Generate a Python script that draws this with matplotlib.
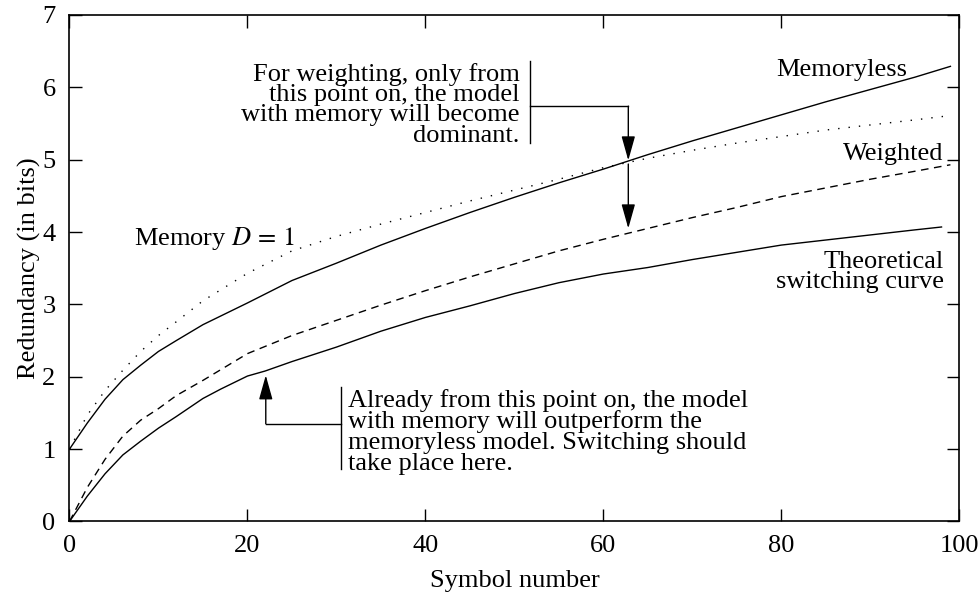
import numpy as np
import matplotlib
matplotlib.use('Agg')
import matplotlib.pyplot as plt

plt.rcParams['font.family'] = ['Liberation Serif', 'DejaVu Serif']
plt.rcParams['mathtext.fontset'] = 'stix'

# Values
symbols = [0, 2, 4, 6, 8, 10, 12, 15, 20, 25, 30, 35, 40, 45, 50,
           55, 60, 65, 70, 75, 80, 85, 90, 95, 99]
memoryless = [1.00, 1.36, 1.69, 1.96, 2.16, 2.35, 2.50, 2.72, 3.02, 3.33, 3.57, 3.82, 4.05,
              4.27, 4.48, 4.68, 4.87, 5.07, 5.26, 5.44, 5.62, 5.80, 5.97, 6.14, 6.29]
memory_d1 = [1.00, 1.47, 1.81, 2.09, 2.35, 2.57, 2.76, 3.05, 3.43, 3.74, 3.94, 4.11, 4.27,
             4.43, 4.58, 4.73, 4.89, 5.02, 5.13, 5.23, 5.32, 5.41, 5.48, 5.55, 5.61]
weighted = [0.00, 0.47, 0.86, 1.18, 1.40, 1.56, 1.74, 1.95, 2.32, 2.57, 2.78, 2.99, 3.19,
            3.38, 3.56, 3.74, 3.90, 4.05, 4.20, 4.34, 4.49, 4.61, 4.73, 4.84, 4.93]
symbols_theo = [0, 2, 4, 6, 8, 10, 12, 15, 17, 20, 22, 25, 30, 35, 40, 45, 50,
                55, 60, 65, 70, 75, 80, 85, 90, 95, 98]
theoretical = [0.00, 0.35, 0.66, 0.92, 1.11, 1.29, 1.45, 1.70, 1.83, 2.01, 2.08, 2.21, 2.41,
               2.63, 2.82, 2.98, 3.15, 3.30, 3.42, 3.51, 3.62, 3.72, 3.82, 3.89, 3.96, 4.03, 4.07]

fs = 19

fig = plt.figure(figsize=(9.8, 5.99), dpi=100)
ax = fig.add_axes([0.0709, 0.1294, 0.908, 0.8456])

lw = 1.0
ax.plot(symbols, memoryless, color='black', lw=lw)
ax.plot(symbols, memory_d1, color='black', lw=lw, linestyle=(0, (1, 6.5)))
ax.plot(symbols, weighted, color='black', lw=lw, linestyle=(0, (5.5, 4)))
ax.plot(symbols_theo, theoretical, color='black', lw=lw)

ax.set_xlim(0, 100)
ax.set_ylim(0, 7)
ax.set_xticks([0, 20, 40, 60, 80, 100])
ax.set_yticks(range(8))
ax.tick_params(direction='in', length=9, width=1, top=True, right=True,
               labelsize=fs, pad=10)
for s in ax.spines.values():
    s.set_linewidth(1.2)

ax.set_xlabel('Symbol number', fontsize=fs, labelpad=9)
ax.set_ylabel('Redundancy (in bits)', fontsize=fs, labelpad=1)

# curve labels
ax.text(94.1, 6.15, 'Memoryless', fontsize=fs, ha='right', va='baseline')
ax.text(98.2, 5.0, 'Weighted', fontsize=fs, ha='right', va='baseline')
ax.text(98.3, 3.23, 'Theoretical\nswitching curve', fontsize=fs, ha='right',
        va='baseline', multialignment='right', linespacing=0.87)
ax.text(7.25, 3.82, r'Memory $D\,=\,1$', fontsize=fs, ha='left', va='baseline')

# upper annotation
ax.text(50.6, 5.25, 'For weighting, only from\nthis point on, the model\n'
        'with memory will become\ndominant.', fontsize=fs, ha='right',
        va='baseline', multialignment='right', linespacing=0.89)
ax.plot([51.77, 51.77], [6.36, 5.23], color='black', lw=1)
ax.plot([51.77, 62.8], [5.74, 5.74], color='black', lw=1)
arrow = dict(arrowstyle='-|>,head_length=1.5,head_width=0.42', color='black',
             lw=1, shrinkA=0, shrinkB=0)
ax.annotate('', xy=(62.8, 4.99), xytext=(62.8, 5.74), arrowprops=arrow)
ax.annotate('', xy=(62.8, 4.05), xytext=(62.8, 4.94), arrowprops=arrow)

# lower annotation
ax.text(31.35, 0.71, 'Already from this point on, the model\nwith memory will outperform the\n'
        'memoryless model. Switching should\ntake place here.', fontsize=fs,
        ha='left', va='baseline', linespacing=0.93)
ax.plot([30.49, 30.49], [1.86, 0.72], color='black', lw=1)
ax.plot([22.06, 30.49], [1.35, 1.35], color='black', lw=1)
ax.annotate('', xy=(22.06, 2.02), xytext=(22.06, 1.35), arrowprops=arrow)

fig.savefig('out.png', dpi=100)
